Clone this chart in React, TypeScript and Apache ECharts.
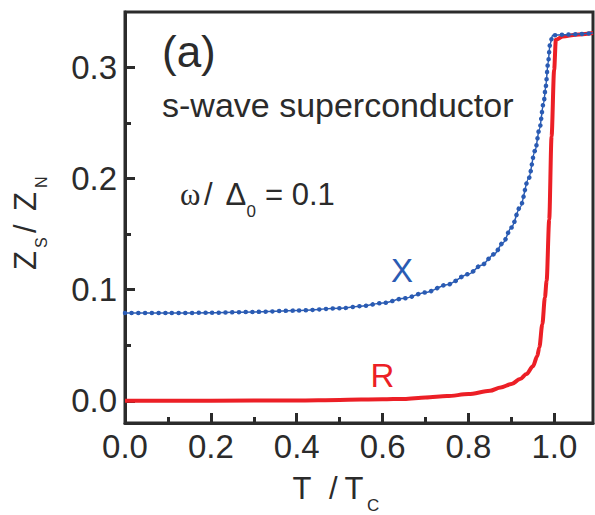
import React, { useEffect, useRef } from "react";
import * as echarts from "echarts";

// Reduced temperature samples and surface impedance components (normalised to Z_N)
const tReactance = [0, 0.1, 0.2, 0.3, 0.4, 0.5, 0.55, 0.6, 0.65, 0.7, 0.75, 0.8, 0.83, 0.86, 0.88, 0.9, 0.92, 0.94, 0.955, 0.965, 0.975, 0.98, 0.985, 0.99, 0.996, 1.02, 1.05, 1.09];
const reactanceX = [0.079, 0.079, 0.0792, 0.08, 0.0812, 0.0832, 0.0852, 0.088, 0.0922, 0.0975, 0.1045, 0.114, 0.122, 0.132, 0.142, 0.156, 0.174, 0.2, 0.225, 0.244, 0.268, 0.283, 0.303, 0.321, 0.329, 0.3295, 0.33, 0.331];

const tResistance = [0, 0.2, 0.4, 0.5, 0.6, 0.65, 0.7, 0.75, 0.8, 0.85, 0.875, 0.9, 0.92, 0.935, 0.95, 0.96, 0.965, 0.972, 0.978, 0.982, 0.988, 0.9935, 0.9995, 1.0035, 1.02, 1.05, 1.09];
const resistanceR = [0, 0, 0.0003, 0.0008, 0.0013, 0.0017, 0.003, 0.0042, 0.006, 0.009, 0.012, 0.015, 0.0195, 0.024, 0.031, 0.04, 0.048, 0.069, 0.093, 0.108, 0.163, 0.238, 0.298, 0.325, 0.328, 0.3295, 0.331];

// Axis ticks
const xMajorTicks = [0, 0.2, 0.4, 0.6, 0.8, 1.0];
const xMinorTicks = [0.1, 0.3, 0.5, 0.7, 0.9];
const yMajorTicks = [0, 0.1, 0.2, 0.3];
const yMinorTicks = [0.05, 0.15, 0.25];

const X_MIN = 0;
const X_MAX = 1.09;
const Y_MIN = -0.02;
const Y_MAX = 0.35;

const INK = "#2b2b2b";
const BLUE = "#2a5bb3";
const RED = "#ec1f26";
const SANS = "'Liberation Sans', Arial, Helvetica, sans-serif";
const SERIF = "'Liberation Serif', 'Times New Roman', serif";

const txt = (x: number, y: number, text: string, size: number, color = INK, family = SANS) => ({
  type: "text",
  x,
  y,
  silent: true,
  style: { text, fontSize: size, fontFamily: family, fill: color, align: "left", verticalAlign: "middle" },
});

const axisLineStyle = { color: INK, width: 3 };

export default function App() {
  const ref = useRef<HTMLDivElement>(null);

  useEffect(() => {
    if (!ref.current) return;
    const chart = echarts.init(ref.current, undefined, { renderer: "svg" });

    const xData = tReactance.map((t, i) => [t, reactanceX[i]]);
    const rData = tResistance.map((t, i) => [t, resistanceR[i]]);

    const majorAxisX = {
      type: "value",
      gridIndex: 0,
      position: "bottom",
      min: X_MIN,
      max: X_MAX,
      axisLine: { show: true, onZero: false, lineStyle: axisLineStyle },
      axisTick: { show: true, inside: true, length: 10, customValues: xMajorTicks, lineStyle: { color: INK, width: 3 } },
      axisLabel: {
        show: true,
        customValues: xMajorTicks,
        margin: 7,
        fontSize: 33,
        fontFamily: SANS,
        color: INK,
        formatter: (v: number) => v.toFixed(1),
      },
      splitLine: { show: false },
    };
    const minorAxisX = {
      type: "value",
      gridIndex: 0,
      position: "bottom",
      min: X_MIN,
      max: X_MAX,
      axisLine: { show: false, onZero: false },
      axisTick: { show: true, inside: true, length: 6, customValues: xMinorTicks, lineStyle: { color: INK, width: 3 } },
      axisLabel: { show: false },
      splitLine: { show: false },
    };
    const majorAxisY = {
      type: "value",
      gridIndex: 0,
      position: "left",
      min: Y_MIN,
      max: Y_MAX,
      axisLine: { show: true, onZero: false, lineStyle: axisLineStyle },
      axisTick: { show: true, inside: true, length: 10, customValues: yMajorTicks, lineStyle: { color: INK, width: 3 } },
      axisLabel: {
        show: true,
        customValues: yMajorTicks,
        margin: 8,
        fontSize: 33,
        fontFamily: SANS,
        color: INK,
        formatter: (v: number) => v.toFixed(1),
      },
      splitLine: { show: false },
    };
    const minorAxisY = {
      type: "value",
      gridIndex: 0,
      position: "left",
      min: Y_MIN,
      max: Y_MAX,
      axisLine: { show: false, onZero: false },
      axisTick: { show: true, inside: true, length: 6, customValues: yMinorTicks, lineStyle: { color: INK, width: 3 } },
      axisLabel: { show: false },
      splitLine: { show: false },
    };

    chart.setOption({
      animation: false,
      backgroundColor: "#ffffff",
      grid: {
        left: 125,
        top: 12,
        width: 468,
        height: 411,
        show: true,
        borderColor: INK,
        borderWidth: 3,
        backgroundColor: "transparent",
        containLabel: false,
      },
      xAxis: [majorAxisX, minorAxisX],
      yAxis: [majorAxisY, minorAxisY],
      series: [
        {
          name: "R",
          type: "line",
          xAxisIndex: 0,
          yAxisIndex: 0,
          data: rData,
          showSymbol: false,
          smooth: 0.3,
          smoothMonotone: "x",
          lineStyle: { color: RED, width: 4 },
          z: 2,
        },
        {
          name: "X-thread",
          type: "line",
          xAxisIndex: 0,
          yAxisIndex: 0,
          data: xData,
          showSymbol: false,
          smooth: 0.3,
          smoothMonotone: "x",
          lineStyle: { color: BLUE, width: 1.5 },
          z: 3,
        },
        {
          name: "X",
          type: "line",
          xAxisIndex: 0,
          yAxisIndex: 0,
          data: xData,
          showSymbol: false,
          smooth: 0.3,
          smoothMonotone: "x",
          lineStyle: { color: BLUE, width: 4.5, type: [0.1, 6.6], cap: "round" },
          z: 4,
        },
      ],
      graphic: [
        txt(162, 51, "(a)", 44),
        txt(162, 105, "s-wave superconductor", 34),
        txt(180, 194.5, "ω", 31, INK, SERIF),
        txt(204, 194, "/", 31),
        txt(225.5, 194, "Δ", 31),
        txt(246.5, 211, "0", 17),
        txt(265, 194, "= 0.1", 31),
        txt(391, 270.5, "X", 33, BLUE),
        txt(370.5, 375.5, "R", 33, RED),
        // x-axis title: T / T_C
        txt(292.5, 488, "T", 31),
        txt(329, 488, "/", 31),
        txt(344.5, 488, "T", 31),
        txt(367, 505, "C", 17),
        // y-axis title: Z_S / Z_N, reading bottom to top
        {
          type: "group",
          x: 36,
          y: 270,
          rotation: Math.PI / 2,
          children: [
            txt(0, -10.8, "Z", 31),
            txt(22, 5, "S", 16),
            txt(37, -10.8, "/", 31),
            txt(59, -10.8, "Z", 31),
            txt(82, 5, "N", 16),
          ],
        },
      ],
    });

    return () => chart.dispose();
  }, []);

  return (
    <div
      ref={ref}
      style={{ position: "fixed", left: 0, top: 0, width: 595, height: 515, background: "#fff" }}
    />
  );
}
